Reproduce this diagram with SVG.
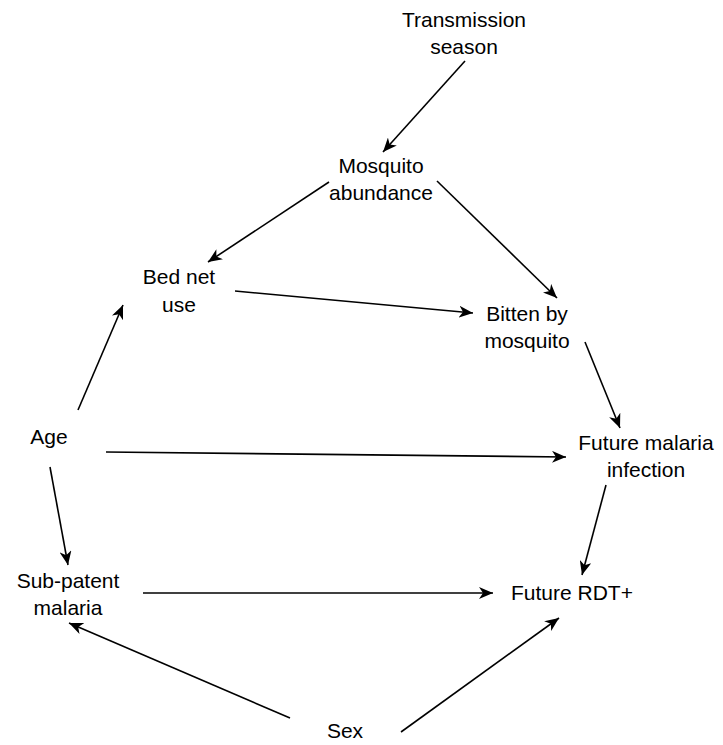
<svg xmlns="http://www.w3.org/2000/svg" width="723" height="745" viewBox="0 0 723 745">
<style>
text{font-family:"Liberation Sans",Arial,sans-serif;font-size:21px;fill:#000;text-anchor:middle}
.c line{stroke:#000;stroke-width:1.6;fill:none;marker-end:url(#ah)}
</style>
<defs>
<marker id="ah" viewBox="0 0 14 12" refX="14" refY="6" markerWidth="14" markerHeight="12" markerUnits="userSpaceOnUse" orient="auto">
<path d="M0,0 L14,6 L0,12 L4,6 Z" fill="#000"/>
</marker>
</defs>
<rect width="723" height="745" fill="#fff"/>
<g class="c" id="connectors">
<line x1="465" y1="61" x2="383" y2="152"/>
<line x1="329" y1="182" x2="208" y2="262"/>
<line x1="437" y1="181" x2="557" y2="298"/>
<line x1="235" y1="291" x2="473" y2="313"/>
<line x1="585" y1="342" x2="620" y2="428"/>
<line x1="78" y1="410" x2="123" y2="305"/>
<line x1="106" y1="452" x2="566" y2="457"/>
<line x1="50" y1="467" x2="68" y2="565"/>
<line x1="606" y1="485" x2="582" y2="575"/>
<line x1="143" y1="593" x2="493" y2="593"/>
<line x1="290" y1="718" x2="69" y2="623"/>
<line x1="401" y1="732" x2="559" y2="618"/>
</g>
<g id="transmission"><text x="464" y="27">Transmission</text><text x="464" y="54">season</text></g>
<g id="mosquito"><text x="381" y="173">Mosquito</text><text x="381" y="200">abundance</text></g>
<g id="bednet"><text x="179" y="284">Bed net</text><text x="179" y="312">use</text></g>
<g id="bitten"><text x="527" y="321">Bitten by</text><text x="527" y="348">mosquito</text></g>
<g id="age"><text x="49" y="444">Age</text></g>
<g id="futuremalaria"><text x="646" y="450">Future malaria</text><text x="646" y="477">infection</text></g>
<g id="subpatent"><text x="68" y="588">Sub-patent</text><text x="68" y="615">malaria</text></g>
<g id="futurerdt"><text x="572" y="600">Future RDT+</text></g>
<g id="sex"><text x="345" y="738">Sex</text></g>
</svg>
